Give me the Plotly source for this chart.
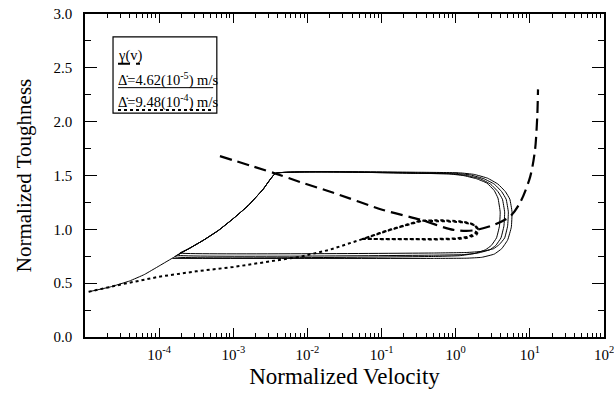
import plotly.graph_objects as go

# ---------------- data (log10 of normalized velocity, normalized toughness) ----------------
# gamma(v) steady-state curve (dashed)
gamma_logv = [-3.18, -2.44, -2.10, -1.65, -0.98, -0.48, -0.03, 0.24, 0.51, 0.735, 0.87, 1.005, 1.07, 1.10, 1.11]
gamma_tough = [1.68, 1.52, 1.44, 1.34, 1.18, 1.09, 0.995, 0.99, 1.04, 1.12, 1.25, 1.49, 1.74, 2.05, 2.30]

# Delta-dot = 4.62e-5 m/s (solid): initial rise, then four stick-slip cycles
slow_initial_logv = [-4.95, -4.66, -4.40, -4.20, -4.00, -3.79]
slow_initial_tough = [0.42, 0.465, 0.52, 0.58, 0.66, 0.745]
slow_climb_logv = [-3.60, -3.40, -3.20, -3.00, -2.80, -2.60, -2.43]
slow_climb_tough = [0.82, 0.90, 0.99, 1.10, 1.22, 1.37, 1.52]
cycleA_logv = [-0.5, -0.1, 0.1, 0.28, 0.42, 0.52, 0.57, 0.60, 0.59, 0.55, 0.48, 0.40, 0.25, 0.05, -0.3, -3.79]
cycleA_tough = [1.52, 1.515, 1.50, 1.47, 1.43, 1.36, 1.29, 1.16, 1.03, 0.92, 0.85, 0.81, 0.775, 0.755, 0.748, 0.745]
cycleB_logv = [-0.5, -0.05, 0.15, 0.33, 0.47, 0.57, 0.63, 0.66, 0.65, 0.61, 0.54, 0.46, 0.30, 0.1, -0.3, -3.75]
cycleB_tough = [1.52, 1.515, 1.50, 1.47, 1.42, 1.35, 1.28, 1.16, 1.03, 0.92, 0.85, 0.81, 0.78, 0.765, 0.76, 0.76]
cycleC_logv = [-0.5, 0.0, 0.2, 0.38, 0.52, 0.62, 0.68, 0.71, 0.70, 0.66, 0.59, 0.51, 0.35, 0.15, -0.3, -3.72]
cycleC_tough = [1.525, 1.52, 1.505, 1.47, 1.42, 1.35, 1.28, 1.16, 1.03, 0.92, 0.86, 0.82, 0.795, 0.785, 0.78, 0.78]
cycleD_logv = [-0.5, 0.05, 0.25, 0.43, 0.57, 0.67, 0.73, 0.76, 0.75, 0.70, 0.62, 0.52, 0.35, 0.15, -0.3, -3.82]
cycleD_tough = [1.53, 1.525, 1.51, 1.475, 1.42, 1.35, 1.28, 1.16, 1.02, 0.90, 0.82, 0.77, 0.74, 0.732, 0.73, 0.73]

# Delta-dot = 9.48e-4 m/s (dotted): rise then small converging loops
fast_rise_logv = [-4.95, -4.5, -4.0, -3.5, -3.0, -2.5, -2.1, -1.7, -1.26]
fast_rise_tough = [0.42, 0.49, 0.56, 0.61, 0.65, 0.70, 0.745, 0.81, 0.91]
fast_loop1_logv = [-0.9, -0.48, -0.2, 0.05, 0.18, 0.26, 0.29, 0.26, 0.16, 0.0, -0.3, -0.8, -1.26]
fast_loop1_tough = [0.99, 1.08, 1.085, 1.075, 1.06, 1.04, 1.0, 0.96, 0.93, 0.915, 0.91, 0.91, 0.91]
fast_loop2_logv = [-0.9, -0.47, -0.18, 0.07, 0.19, 0.27, 0.30, 0.27, 0.17, 0.02, -0.3, -0.8, -1.25]
fast_loop2_tough = [0.995, 1.083, 1.08, 1.07, 1.055, 1.035, 0.995, 0.955, 0.928, 0.913, 0.908, 0.909, 0.912]
fast_loop3_logv = [-0.9, -0.46, -0.16, 0.09, 0.20, 0.28, 0.31, 0.28, 0.18, 0.04, -0.3, -0.8, -1.24]
fast_loop3_tough = [0.992, 1.078, 1.075, 1.065, 1.05, 1.03, 0.99, 0.95, 0.924, 0.91, 0.906, 0.907, 0.91]

x_tickvals = [1e-4, 1e-3, 1e-2, 1e-1, 1e0, 1e1, 1e2]
x_ticktext = ["10<sup>-4</sup>", "10<sup>-3</sup>", "10<sup>-2</sup>", "10<sup>-1</sup>",
              "10<sup>0</sup>", "10<sup>1</sup>", "10<sup>2</sup>"]
legend_labels = ["\u03b3(v)", "\u0394\u0307=4.62(10<sup>-5</sup>) m/s", "\u0394\u0307=9.48(10<sup>-4</sup>) m/s"]

# ---------------- assemble ----------------
def tenpow(vals):
    return [10 ** v for v in vals]

slow_logv = (slow_initial_logv + slow_climb_logv + cycleA_logv + slow_climb_logv + cycleB_logv
             + slow_climb_logv + cycleC_logv + slow_climb_logv + cycleD_logv)
slow_tough = (slow_initial_tough + slow_climb_tough + cycleA_tough + slow_climb_tough + cycleB_tough
              + slow_climb_tough + cycleC_tough + slow_climb_tough + cycleD_tough)
fast_logv = fast_rise_logv + fast_loop1_logv + fast_loop2_logv + fast_loop3_logv
fast_tough = fast_rise_tough + fast_loop1_tough + fast_loop2_tough + fast_loop3_tough

FONT = "Liberation Serif"
fig = go.Figure()
fig.add_trace(go.Scatter(x=tenpow(slow_logv), y=slow_tough, mode="lines",
                         line=dict(color="black", width=1, shape="spline", smoothing=0.3),
                         name=legend_labels[1], showlegend=False))
fig.add_trace(go.Scatter(x=tenpow(fast_logv), y=fast_tough, mode="lines",
                         line=dict(color="black", width=2, dash="dot"),
                         name=legend_labels[2], showlegend=False))
fig.add_trace(go.Scatter(x=tenpow(gamma_logv), y=gamma_tough, mode="lines",
                         line=dict(color="black", width=2.2, dash="12px,6px", shape="spline", smoothing=0.8),
                         name=legend_labels[0], showlegend=False))

# custom legend box
fig.add_shape(type="rect", xref="x domain", yref="y domain", x0=0.054, x1=0.254, y0=0.693, y1=0.929,
              line=dict(color="black", width=1.2), fillcolor="white", layer="below")
legend_rows = [(0.873, 0.846, 0.106, "12px,6px", 2), (0.796, 0.772, 0.247, "solid", 1), (0.728, 0.703, 0.247, "dot", 2)]
for (ty, ly, lx1, dash, w), label in zip(legend_rows, legend_labels):
    fig.add_annotation(xref="x domain", yref="y domain", x=0.060, y=ty, text=label, showarrow=False,
                       xanchor="left", yanchor="middle", font=dict(family=FONT, size=14.5, color="black"))
    fig.add_shape(type="line", xref="x domain", yref="y domain", x0=0.0636, x1=lx1, y0=ly, y1=ly,
                  line=dict(color="black", width=w, dash=dash))

axis_common = dict(showline=True, linecolor="black", linewidth=1.5, mirror="ticks", ticks="inside",
                   tickcolor="black", showgrid=False, zeroline=False, automargin=False,
                   ticklabeloverflow="allow",
                   tickfont=dict(family=FONT, size=15, color="black"))
fig.update_xaxes(type="log", range=[-5, 2], tickvals=x_tickvals, ticktext=x_ticktext, ticklen=9, tickwidth=1.2,
                 ticklabelstandoff=3,
                 minor=dict(ticks="inside", ticklen=4, dtick="D1", tickcolor="black", showgrid=False),
                 title=dict(text="Normalized Velocity", font=dict(family=FONT, size=23, color="black"), standoff=6),
                 **axis_common)
fig.update_yaxes(range=[0, 3], dtick=0.5, tickformat=".1f", ticklen=12, tickwidth=1.2,
                 ticklabelstandoff=8,
                 minor=dict(ticks="inside", ticklen=6, dtick=0.25, tickcolor="black", showgrid=False),
                 title=dict(text="Normalized Toughness", font=dict(family=FONT, size=21, color="black"), standoff=16),
                 **axis_common)
fig.update_layout(width=614, height=394, margin=dict(l=85, r=10, t=14, b=57),
                  plot_bgcolor="white", paper_bgcolor="white", showlegend=False,
                  font=dict(family=FONT, color="black"))
# remove the page body's default margin so the figure sits at the window origin
fig.write_html("out.html", config={"displayModeBar": False},
               post_script="document.body.style.margin='0px';")
